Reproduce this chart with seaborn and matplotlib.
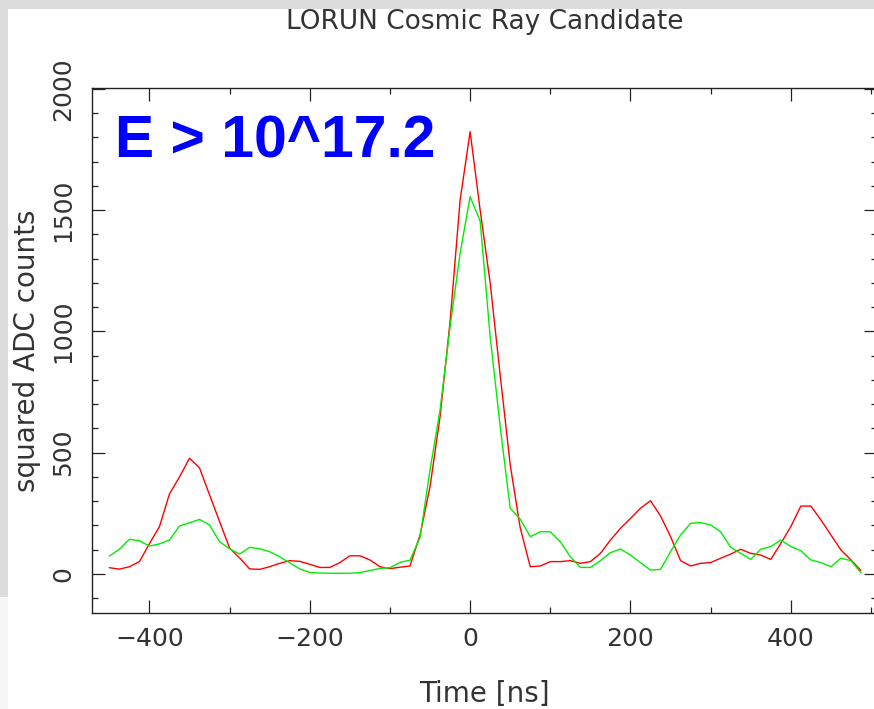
import numpy as np
import pandas as pd
import matplotlib
matplotlib.use("Agg")
import matplotlib.pyplot as plt
from matplotlib.ticker import MultipleLocator
from matplotlib.patches import Rectangle
import seaborn as sns

# ---- data ----
time_ns = [-450.0, -437.5, -425.0, -412.5, -400.0, -387.5, -375.0, -362.5, -350.0, -337.5,
           -325.0, -312.5, -300.0, -287.5, -275.0, -262.5, -250.0, -237.5, -225.0, -212.5,
           -200.0, -187.5, -175.0, -162.5, -150.0, -137.5, -125.0, -112.5, -100.0, -87.5,
           -75.0, -62.5, -50.0, -37.5, -25.0, -12.5, 0.0, 12.5, 25.0, 37.5,
           50.0, 62.5, 75.0, 87.5, 100.0, 112.5, 125.0, 137.5, 150.0, 162.5,
           175.0, 187.5, 200.0, 212.5, 225.0, 237.5, 250.0, 262.5, 275.0, 287.5,
           300.0, 312.5, 325.0, 337.5, 350.0, 362.5, 375.0, 387.5, 400.0, 412.5,
           425.0, 437.5, 450.0, 462.5, 475.0, 487.5]

red_counts = [26, 20, 30, 51, 125, 195, 330, 400, 477, 437,
              326, 216, 107, 66, 21, 19, 30, 44, 55, 52,
              40, 27, 27, 47, 75, 75, 58, 30, 22, 28,
              33, 160, 360, 648, 1040, 1540, 1823, 1500, 1200, 820,
              450, 190, 30, 33, 51, 51, 55, 44, 51, 85,
              140, 188, 229, 271, 302, 239, 154, 55, 33, 44,
              47, 65, 82, 102, 85, 78, 60, 126, 195, 280,
              280, 223, 161, 99, 58, 14]

green_counts = [74, 102, 143, 137, 115, 124, 140, 198, 211, 225,
                202, 133, 104, 82, 110, 104, 92, 71, 46, 21,
                6, 4, 3, 3, 3, 6, 14, 23, 26, 48,
                57, 150, 429, 676, 1019, 1322, 1555, 1455, 978, 607,
                271, 226, 154, 174, 174, 133, 71, 27, 27, 55,
                88, 103, 78, 47, 16, 19, 92, 161, 209, 212,
                202, 174, 110, 85, 60, 102, 113, 140, 113, 96,
                58, 47, 30, 65, 55, 5]

title_text = "LORUN Cosmic Ray Candidate"
x_label = "Time [ns]"
y_label = "squared ADC counts"
note_text = "E > 10^17.2"

df = pd.DataFrame({
    "t": time_ns * 2,
    "v": red_counts + green_counts,
    "series": ["red"] * len(red_counts) + ["green"] * len(green_counts),
})

sns.set_style("ticks")
plt.rcParams["font.family"] = ["DejaVu Sans"]

W, H = 874, 709
fig = plt.figure(figsize=(W / 100, H / 100), dpi=100, facecolor="white")

# screenshot-like gray borders
fig.patches.append(Rectangle((0, 1 - 9 / H), 1, 9 / H, transform=fig.transFigure,
                             facecolor="#dcdcdc", edgecolor="none", zorder=0))
fig.patches.append(Rectangle((0, 1 - 597 / H), 8 / W, 597 / H, transform=fig.transFigure,
                             facecolor="#dcdcdc", edgecolor="none", zorder=0))
fig.patches.append(Rectangle((0, 0), 8 / W, 1 - 597 / H, transform=fig.transFigure,
                             facecolor="#f7f7f7", edgecolor="none", zorder=0))

left_px, right_px, top_px, bot_px = 91.7, 877.4, 87.5, 613.3
ax = fig.add_axes([left_px / W, 1 - bot_px / H, (right_px - left_px) / W, (bot_px - top_px) / H])
ax.set_facecolor("none")

sns.lineplot(data=df, x="t", y="v", hue="series",
             palette={"red": "#ff0000", "green": "#00ee00"},
             hue_order=["red", "green"], legend=False, linewidth=1.0,
             estimator=None, sort=False, ax=ax)

ax.set_xlim(-472, 508)
ax.set_ylim(-162, 2005)

ax.xaxis.set_major_locator(MultipleLocator(200))
ax.xaxis.set_minor_locator(MultipleLocator(100))
ax.yaxis.set_major_locator(MultipleLocator(500))
ax.yaxis.set_minor_locator(MultipleLocator(100))

txt_col = "#333333"
ax.tick_params(which="both", direction="in", top=True, right=True,
               color="#222222", width=0.9, labelcolor=txt_col, labelsize=18)
ax.tick_params(which="major", length=9.5)
ax.tick_params(which="minor", length=4.5)
ax.tick_params(axis="x", which="major", pad=10)
ax.tick_params(axis="y", which="major", pad=12)
for lab in ax.get_yticklabels():
    lab.set_rotation(90)
    lab.set_va("center")

for s in ax.spines.values():
    s.set_color("#222222")
    s.set_linewidth(1.0)

ax.set_xlabel(x_label, fontsize=20, color=txt_col, labelpad=21)
ax.set_ylabel(y_label, fontsize=20, color=txt_col, labelpad=7)

fig.text((left_px + right_px) / 2 / W, 1 - 22 / H, title_text, ha="center", va="center",
         fontsize=19, color=txt_col)

fig.text(115 / W, 1 - 158 / H, note_text, ha="left", va="baseline",
         fontsize=42.3, fontweight="bold", color="#0000ff", family=["Liberation Sans", "DejaVu Sans"])

fig.savefig("out.png", dpi=100, facecolor="white")
